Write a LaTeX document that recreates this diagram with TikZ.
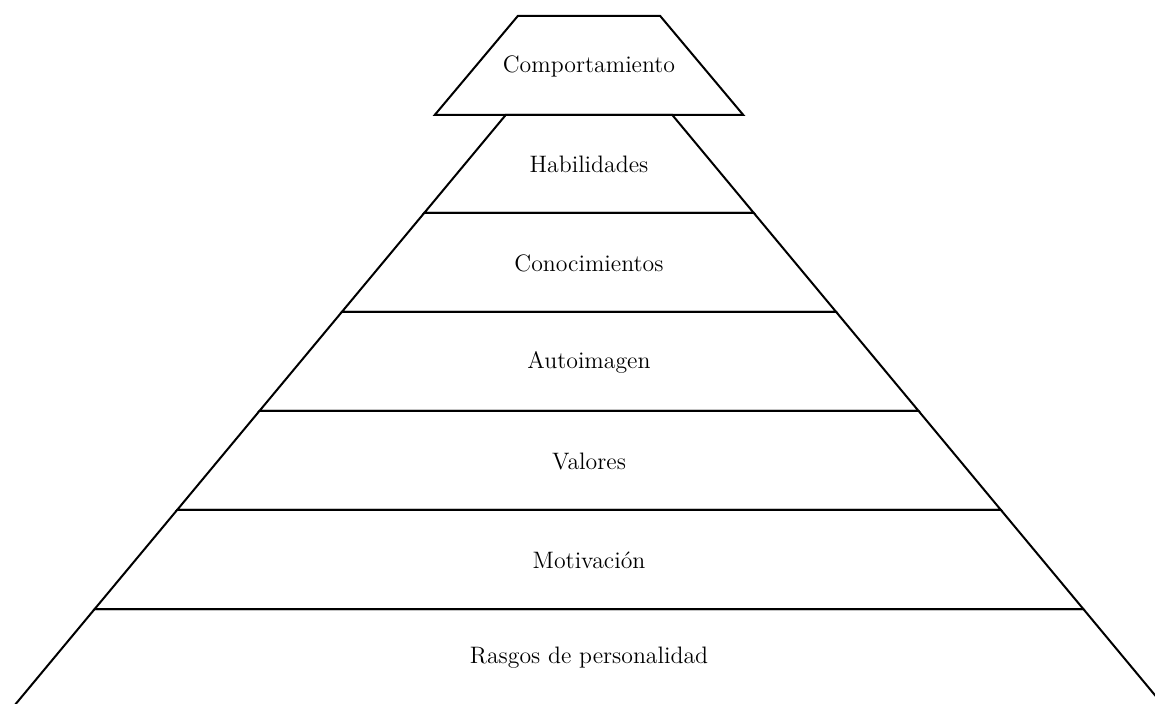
\documentclass[tikz,border=0pt]{standalone}
\begin{document}
\begin{tikzpicture}[x=0.5pt,y=-0.5pt,
  layer/.style={draw=black,line width=1pt,line join=miter},
  lbl/.style={font=\fontsize{11.9}{14}\selectfont,inner sep=0pt,anchor=center}]
\useasboundingbox (0,0) rectangle (1155,704);
% top cap, set apart from the pyramid
\draw[layer] (517.8,16) -- (660.2,16) -- (743.3,115) -- (434.7,115) -- cycle;
\node[lbl] (c0) at (589,66) {Comportamiento};
% pyramid bands, top to bottom
\draw[layer] (505.7,115) -- (672.3,115) -- (753.8,213) -- (424.2,213) -- cycle;
\node[lbl] (c1) at (589,164) {Habilidades};
\draw[layer] (424.2,213) -- (753.8,213) -- (836.2,312) -- (341.8,312) -- cycle;
\node[lbl] (c2) at (589,263) {Conocimientos};
\draw[layer] (341.8,312) -- (836.2,312) -- (918.6,411) -- (259.4,411) -- cycle;
\node[lbl] (c3) at (589,362) {Autoimagen};
\draw[layer] (259.4,411) -- (918.6,411) -- (1000.9,510) -- (177.1,510) -- cycle;
\node[lbl] (c4) at (589,461) {Valores};
\draw[layer] (177.1,510) -- (1000.9,510) -- (1083.3,609) -- (94.7,609) -- cycle;
\node[lbl] (c5) at (589,560) {Motivación};
% base band runs off the bottom edge
\draw[layer] (2.4,720) -- (94.7,609) -- (1083.3,609) -- (1175.6,720);
\node[lbl] (c6) at (589,658) {Rasgos de personalidad};
\end{tikzpicture}
\end{document}
